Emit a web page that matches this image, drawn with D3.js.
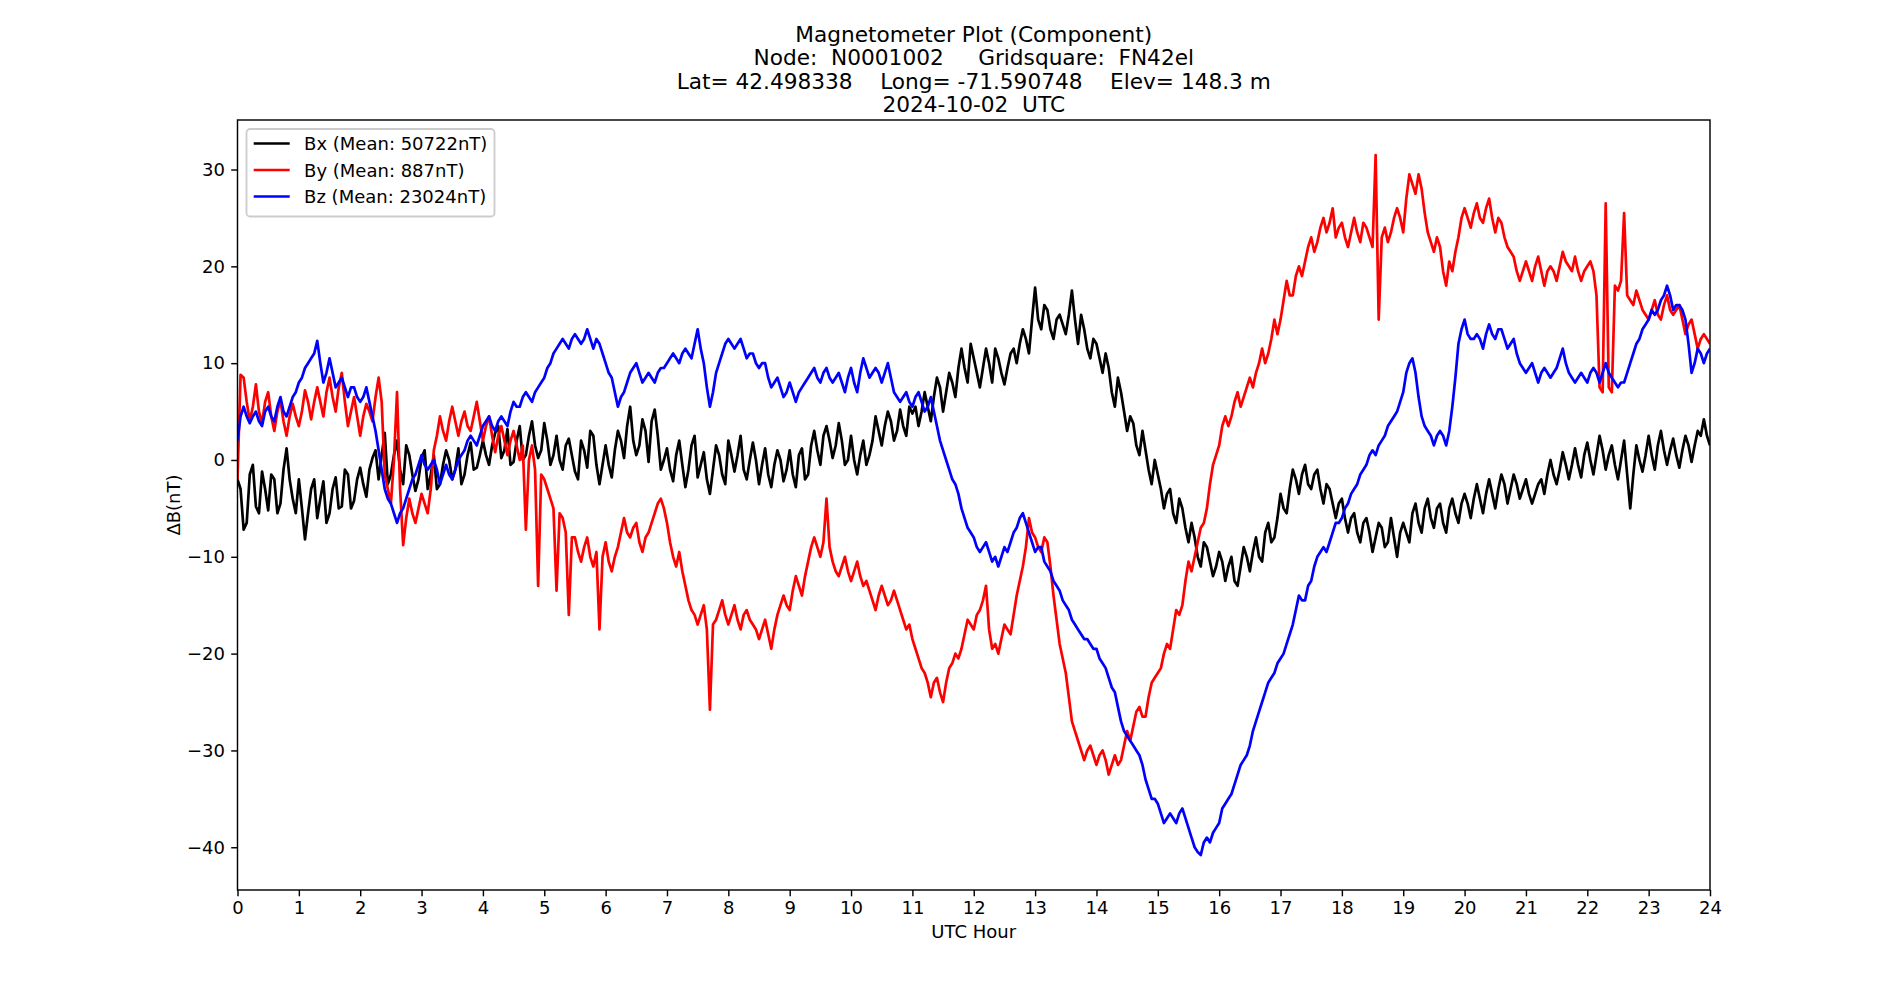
<!DOCTYPE html>
<html>
<head>
<meta charset="utf-8">
<script src="https://cdn.jsdelivr.net/npm/d3@7"></script>
<style>
  body { margin: 0; background: #fff; }
  svg { display: block; font-family: "DejaVu Sans", sans-serif; }
</style>
</head>
<body>
<svg id="chart"></svg>
<script>
const width = 1900, height = 1000;
const marginLeft = 237.5, marginRight = 190, marginTop = 120, marginBottom = 110;

const TITLE_LINES = [
    "Magnetometer Plot (Component)",
    "Node:  N0001002     Gridsquare:  FN42el",
    "Lat= 42.498338    Long= -71.590748    Elev= 148.3 m",
    "2024-10-02  UTC"
];

const X_TICKS = [0, 1, 2, 3, 4, 5, 6, 7, 8, 9, 10, 11, 12, 13, 14, 15, 16, 17, 18, 19, 20, 21, 22, 23, 24];
const Y_TICKS = [-40, -30, -20, -10, 0, 10, 20, 30];

const SERIES_NAMES = ["Bx", "By", "Bz"];
const SERIES_MEANS = [50722, 887, 23024];
const SERIES_COLORS = ["#000000", "#ff0000", "#0000ff"];

// readings on the tenth of an hour (00.0 ... 24.0 UTC, one row per hour)
// plus the readings halfway between them (00.05 ... 23.95 UTC)
const STEP_HOURS = 0.1;

const BX = [
    -2.0, -7.2, -1.5, -4.8, -1.2, -5.2, -2.0, -4.5, 1.2, -4.0,
    -2.0, -8.2, -3.0, -6.0, -2.2, -5.5, -1.8, -4.8, -1.5, -4.2,
    -0.8, -3.8, 0.2, -2.0, 2.8, -1.5, 2.0, -2.5, 0.5, -3.2,
    0.2, -3.0, 0.5, -2.5, 1.0, -2.0, 1.2, -1.5, 1.8, -0.8,
    2.0, -0.5, 2.8, 0.2, 3.2, -0.2, 3.5, 0.5, 4.0, 0.2,
    3.8, -0.5, 2.5, -1.0, 2.2, -1.2, 2.0, -0.8, 2.5, -2.5,
    1.5, -1.8, 3.0, 0.2, 5.5, 0.5, 4.2, -0.2, 5.2, -1.0,
    1.2, -2.2, 2.0, -2.8, 1.5, -1.8, 0.8, -3.5, 1.5, -1.5,
    2.0, -1.2, 2.5, -2.0, 1.8, -2.5, 1.2, -2.8, 1.0, -2.2,
    1.0, -2.8, 1.2, -1.5, 3.0, -0.5, 3.5, 0.2, 3.8, -0.5,
    2.5, -1.5, 2.0, 0.5, 4.5, 1.5, 5.0, 2.0, 5.2, 2.5,
    4.8, 3.5, 7.0, 4.0, 8.5, 5.0, 9.0, 6.5, 11.5, 8.0,
    10.5, 7.5, 11.5, 8.0, 10.5, 7.8, 11.0, 10.0, 13.5, 11.0,
    17.8, 13.5, 15.5, 12.5, 15.0, 13.0, 17.5, 12.0, 13.5, 10.5,
    12.0, 9.0, 9.5, 5.5, 7.0, 3.0, 3.8, 0.5, 1.0, -2.5,
    -1.5, -5.0, -3.0, -6.5, -5.0, -8.5, -8.0, -11.0, -9.0, -12.0,
    -9.5, -12.5, -10.0, -13.0, -9.0, -11.5, -8.0, -10.5, -6.5, -8.0,
    -3.5, -5.5, -1.0, -3.5, -0.5, -3.0, -1.0, -4.5, -3.0, -6.0,
    -4.0, -7.5, -5.5, -8.5, -6.0, -9.5, -6.5, -9.0, -6.0, -10.0,
    -6.5, -8.5, -4.5, -7.5, -4.0, -7.0, -4.5, -7.5, -4.0, -6.5,
    -3.5, -6.0, -2.5, -5.5, -2.0, -5.0, -1.5, -4.5, -1.5, -4.0,
    -2.0, -4.5, -2.5, -3.5, 0.0, -2.5, 0.8, -2.0, 1.2, -1.8,
    1.8, -1.5, 2.5, -1.0, 1.5, -2.0, 2.0, -5.0, 1.5, -1.2,
    2.5, -1.0, 3.0, -0.5, 2.2, -0.8, 2.5, -0.2, 3.0, 4.2,
    1.5
];
const BX_MID = [
    -3.0, -6.5, -0.5, -5.5, -3.0, -1.5, -5.5, -1.0, -2.0, -5.5,
    -5.0, -5.5, -2.0, -4.0, -6.5, -3.0, -5.0, -1.0, -5.0, -2.0,
    -2.5, -1.0, 1.0, 0.5, -2.5, 0.5, -1.0, 1.5, -1.5, -2.0,
    1.0, -1.5, -3.0, -0.5, 0.0, -1.0, -2.5, 0.5, -1.0, 0.5,
    0.5, 1.5, 3.5, 1.0, -0.5, 2.0, 0.0, 2.5, 1.5, 1.0,
    2.0, 0.5, 0.0, 1.5, 0.5, -2.0, 1.0, 3.0, -0.5, -0.5,
    -0.5, 1.0, 2.0, 3.5, 2.0, 1.5, 3.0, 4.0, 2.5, 0.0,
    -1.0, 0.5, -0.5, -1.0, 2.5, -0.5, -2.0, -1.0, 0.5, -2.5,
    0.5, 0.5, -1.0, 0.0, 0.0, -0.5, -1.5, -0.5, 0.0, -1.0,
    -1.5, 0.5, -2.0, 1.5, 1.0, 2.5, 2.0, 1.5, 2.0, 0.0,
    0.0, 0.5, -0.5, 2.0, 3.0, 3.5, 4.0, 3.0, 3.5, 5.5,
    5.5, 5.0, 5.5, 6.5, 7.5, 7.0, 8.0, 9.5, 9.5, 12.0,
    9.0, 9.5, 10.0, 11.5, 9.0, 9.5, 11.5, 12.0, 12.5, 14.5,
    14.5, 16.0, 13.5, 14.5, 14.0, 15.0, 14.5, 15.0, 11.5, 12.5,
    10.5, 11.0, 7.0, 8.5, 5.0, 4.5, 1.5, 3.0, -1.0, 0.0,
    -3.0, -3.5, -5.5, -4.0, -7.0, -6.5, -10.0, -8.5, -10.5, -11.0,
    -10.5, -11.0, -12.5, -11.0, -10.0, -9.5, -10.0, -7.5, -8.5, -6.0,
    -5.0, -3.0, -2.0, -1.5, -2.5, -1.5, -3.0, -2.5, -4.5, -4.5,
    -6.0, -6.0, -7.5, -6.5, -7.5, -8.0, -7.0, -8.5, -8.0, -7.5,
    -7.5, -5.5, -6.5, -5.0, -6.0, -5.0, -6.5, -5.0, -5.5, -4.5,
    -4.5, -4.0, -4.0, -3.5, -3.5, -3.0, -2.5, -3.0, -2.5, -3.0,
    -3.5, -3.5, -2.0, -1.5, -1.5, -1.0, -0.5, -0.5, -0.5, 0.5,
    0.0, 0.5, 1.0, 0.5, -0.5, 0.0, -1.5, -1.5, 0.0, 0.5,
    0.5, 1.5, 1.0, 1.0, 0.5, 1.0, 1.5, 1.5, 2.5, 2.5
];

const BY = [
    -2.0, 8.5, 4.0, 7.8, 3.8, 7.0, 3.0, 6.2, 2.5, 5.8,
    3.5, 7.2, 4.2, 7.5, 4.5, 8.5, 5.0, 9.0, 3.5, 6.5,
    2.5, 5.8, 4.0, 8.5, -1.5, -4.5, 7.0, -8.8, -4.0, -6.5,
    -3.5, -5.5, 1.0, 4.5, 2.0, 5.5, 2.5, 5.0, 3.0, 6.0,
    2.0, 4.5, 0.8, 3.5, 0.5, 3.0, 0.0, -7.2, 1.5, -13.0,
    -2.0, -4.0, -13.5, -6.0, -16.0, -8.0, -10.5, -8.0, -11.0, -17.5,
    -8.5, -11.5, -9.0, -6.0, -8.0, -6.5, -9.5, -7.5, -5.5, -4.0,
    -6.5, -10.0, -9.5, -13.0, -15.5, -17.0, -15.0, -25.8, -16.5, -14.5,
    -17.0, -15.0, -17.5, -15.5, -17.0, -18.5, -16.5, -19.5, -16.0, -14.0,
    -15.5, -12.0, -14.0, -10.5, -8.0, -10.0, -4.0, -10.5, -12.0, -10.0,
    -12.5, -10.5, -13.0, -13.5, -15.5, -13.0, -15.0, -13.5, -15.5, -17.5,
    -18.5, -20.5, -22.0, -24.5, -22.5, -25.0, -21.5, -20.0, -19.5, -16.5,
    -17.5, -15.5, -13.0, -19.5, -20.0, -17.0, -18.0, -14.0, -11.0, -6.0,
    -8.0, -9.5, -8.5, -14.0, -19.0, -22.0, -27.0, -29.0, -31.0, -29.5,
    -31.5, -30.0, -32.5, -30.5, -31.0, -28.0, -27.5, -25.5, -26.5, -23.0,
    -22.0, -20.0, -19.5, -15.5, -15.0, -10.5, -10.0, -7.0, -5.0, -0.5,
    1.5, 4.5, 4.5, 7.0, 6.5, 8.5, 9.0, 11.5, 11.0, 14.5,
    14.5, 18.5, 17.0, 20.0, 20.5, 23.0, 22.5, 25.0, 24.5, 23.0,
    24.5, 22.0, 25.0, 22.5, 24.0, 22.0, 14.5, 24.0, 23.5, 26.0,
    23.5, 29.5, 27.5, 28.0, 23.5, 21.5, 22.0, 18.0, 19.5, 23.0,
    26.0, 24.0, 26.5, 24.5, 27.0, 23.5, 24.5, 22.0, 21.0, 18.5,
    20.5, 18.5, 21.0, 18.0, 20.0, 18.5, 21.5, 20.0, 21.0, 18.5,
    20.0, 19.5, 7.5, 26.5, 7.0, 17.5, 25.5, 16.5, 17.5, 15.5,
    14.5, 16.5, 14.5, 17.0, 15.0, 16.0, 13.0, 14.5, 11.5, 13.0,
    12.0
];
const BY_MID = [
    8.8, 6.0, 5.5, 5.0, 6.0, 4.5, 5.0, 4.0, 4.5, 4.5,
    5.0, 6.0, 6.0, 6.0, 7.0, 6.5, 7.5, 6.0, 5.0, 4.5,
    4.5, 5.0, 6.5, 6.0, -3.0, 0.0, -3.0, -6.0, -5.5, -5.0,
    -4.5, -3.0, 2.5, 3.0, 4.0, 4.0, 4.0, 3.5, 4.5, 4.0,
    3.5, 2.5, 2.5, 2.0, 2.0, 1.5, 1.5, 0.0, -1.0, -1.5,
    -3.0, -5.0, -5.5, -7.5, -8.0, -9.5, -9.0, -10.0, -9.5, -10.0,
    -10.5, -10.0, -7.5, -7.5, -7.0, -8.5, -8.0, -6.5, -4.5, -5.0,
    -8.5, -11.0, -11.5, -14.5, -16.0, -16.0, -17.5, -17.0, -15.5, -16.0,
    -16.0, -16.5, -16.0, -16.5, -17.5, -17.5, -18.0, -17.5, -15.0, -15.0,
    -13.5, -13.0, -12.0, -9.0, -9.0, -8.5, -9.0, -11.5, -11.0, -11.5,
    -11.5, -12.0, -12.5, -14.5, -14.0, -14.0, -14.5, -14.5, -16.5, -17.0,
    -19.5, -21.5, -23.0, -23.0, -24.0, -23.0, -21.0, -20.5, -18.0, -17.0,
    -16.0, -14.5, -17.5, -19.0, -18.5, -17.5, -16.0, -12.5, -9.0, -7.5,
    -9.0, -8.0, -11.0, -16.5, -20.5, -24.5, -28.0, -30.0, -30.0, -30.5,
    -30.5, -31.0, -31.5, -31.5, -29.5, -29.0, -26.0, -26.5, -24.5, -22.5,
    -21.5, -19.0, -17.5, -16.0, -12.5, -11.5, -8.5, -6.5, -2.5, 0.5,
    3.5, 3.5, 6.0, 5.5, 7.5, 7.5, 10.0, 10.0, 12.5, 13.0,
    16.5, 17.0, 19.0, 19.0, 22.0, 21.5, 24.0, 23.5, 26.0, 24.0,
    23.0, 23.5, 23.5, 24.5, 23.0, 31.5, 23.0, 22.5, 25.0, 25.0,
    27.0, 28.5, 29.5, 25.5, 22.5, 23.0, 19.5, 20.5, 21.5, 25.0,
    25.0, 25.5, 25.0, 26.0, 25.0, 25.0, 23.0, 21.5, 19.5, 19.5,
    19.5, 20.0, 19.5, 19.5, 19.5, 20.0, 20.5, 19.5, 19.5, 19.5,
    20.5, 17.0, 7.0, 7.5, 18.0, 18.5, 17.0, 16.0, 16.5, 15.0,
    15.5, 15.0, 16.0, 15.5, 15.5, 14.5, 14.0, 13.0, 12.5, 12.5
];

const BZ = [
    2.0, 5.5, 3.8, 5.0, 3.5, 5.5, 4.0, 6.5, 4.5, 6.5,
    8.0, 9.5, 10.5, 12.3, 8.0, 10.5, 7.5, 8.5, 6.5, 7.5,
    6.0, 7.5, 4.5, 1.0, -3.0, -4.5, -6.5, -5.0, -3.0, -1.5,
    0.5, -1.0, 0.0, -2.5, -0.5, -2.0, 0.0, 1.0, 2.5, 1.5,
    3.5, 4.5, 3.0, 4.5, 3.5, 6.0, 5.5, 7.0, 6.0, 7.5,
    8.5, 10.0, 11.5, 12.5, 11.5, 13.0, 12.0, 13.5, 11.5, 12.0,
    10.0, 8.5, 5.5, 7.0, 9.0, 10.0, 8.0, 9.0, 8.0, 9.5,
    10.0, 11.0, 10.0, 11.5, 10.5, 13.5, 10.0, 5.5, 9.0, 11.0,
    12.5, 11.5, 12.5, 10.5, 11.0, 9.5, 10.0, 7.5, 8.5, 6.5,
    8.0, 6.0, 7.5, 8.5, 9.5, 8.0, 9.5, 8.0, 9.0, 7.0,
    9.5, 7.0, 10.5, 8.5, 9.5, 8.0, 10.0, 7.0, 6.0, 7.0,
    5.5, 7.0, 5.0, 6.5, 3.5, 1.0, -1.0, -2.5, -5.0, -7.0,
    -8.0, -9.5, -8.5, -10.5, -11.0, -9.0, -8.5, -7.0, -5.5, -7.5,
    -9.5, -9.0, -11.0, -12.5, -13.5, -15.0, -16.5, -17.5, -18.5, -19.0,
    -19.5, -21.0, -22.5, -24.0, -27.0, -28.5, -29.5, -30.5, -33.0, -35.0,
    -35.5, -37.5, -36.5, -37.5, -36.0, -38.0, -40.0, -40.8, -39.0, -38.5,
    -37.5, -35.5, -34.5, -32.5, -31.0, -29.5, -27.0, -25.0, -23.0, -22.0,
    -20.5, -19.0, -17.0, -14.0, -14.5, -12.5, -10.0, -9.0, -8.5, -6.5,
    -6.0, -4.5, -3.0, -1.5, -0.5, 1.0, 1.5, 2.5, 4.0, 5.0,
    7.0, 10.0, 9.0, 4.5, 3.0, 1.5, 3.0, 1.5, 5.5, 12.0,
    14.5, 12.5, 13.0, 11.5, 14.0, 12.5, 13.5, 11.5, 12.5, 10.0,
    9.0, 10.0, 8.0, 9.5, 8.5, 9.5, 11.5, 9.0, 8.0, 9.0,
    8.0, 9.5, 8.0, 10.0, 8.5, 7.5, 8.0, 10.0, 12.0, 13.5,
    14.5, 15.0, 16.5, 18.0, 15.5, 16.0, 14.5, 9.0, 11.5, 10.0,
    11.5
];
const BZ_MID = [
    4.5, 4.5, 4.5, 4.0, 5.0, 4.5, 5.5, 5.0, 5.5, 7.0,
    8.5, 10.0, 11.0, 10.0, 9.0, 9.0, 8.0, 7.5, 7.5, 6.5,
    6.5, 6.0, 3.0, -1.0, -4.0, -5.5, -5.5, -4.0, -2.0, -0.5,
    -0.5, -0.5, -1.0, -1.5, -1.5, -1.0, 0.5, 2.0, 2.0, 2.5,
    4.0, 3.5, 4.0, 4.0, 5.0, 5.5, 6.5, 6.5, 7.0, 8.0,
    9.5, 11.0, 12.0, 12.0, 12.5, 12.5, 12.5, 12.5, 12.5, 11.0,
    9.0, 7.0, 6.5, 8.0, 9.5, 9.0, 8.5, 8.5, 9.0, 9.5,
    10.5, 10.5, 11.0, 11.0, 12.0, 11.5, 7.5, 7.0, 10.0, 12.0,
    12.0, 12.0, 11.5, 11.0, 10.0, 10.0, 8.5, 8.0, 7.5, 7.0,
    7.0, 7.0, 8.0, 9.0, 8.5, 9.0, 8.5, 8.5, 8.0, 8.5,
    8.0, 9.0, 9.5, 9.0, 9.0, 9.0, 8.5, 6.5, 6.5, 6.0,
    6.5, 6.0, 5.5, 5.0, 2.0, 0.0, -2.0, -3.5, -6.0, -7.5,
    -9.0, -9.0, -9.5, -10.0, -10.0, -9.5, -7.5, -6.0, -6.5, -8.5,
    -9.0, -10.5, -11.5, -13.0, -14.5, -15.5, -17.0, -18.0, -18.5, -19.5,
    -20.5, -21.5, -23.5, -25.5, -28.0, -29.0, -30.0, -31.5, -34.0, -35.0,
    -36.5, -37.0, -37.0, -36.5, -37.0, -39.0, -40.5, -39.5, -39.5, -38.0,
    -36.0, -35.0, -33.5, -31.5, -30.5, -28.0, -26.0, -24.0, -22.5, -21.0,
    -20.0, -18.0, -15.5, -14.5, -13.0, -11.0, -9.5, -9.5, -7.5, -6.5,
    -5.0, -3.5, -2.5, -1.0, 0.5, 0.5, 2.0, 3.5, 4.5, 6.0,
    9.0, 10.5, 6.5, 3.5, 2.5, 2.5, 2.5, 3.0, 8.5, 13.5,
    13.0, 12.5, 12.5, 13.0, 13.0, 13.5, 12.5, 12.0, 11.0, 9.5,
    9.5, 9.0, 9.0, 9.0, 9.0, 10.5, 10.0, 8.5, 8.5, 8.5,
    9.0, 9.0, 9.0, 9.0, 8.0, 8.0, 9.0, 11.0, 12.5, 14.0,
    15.5, 15.5, 17.0, 17.0, 16.0, 15.5, 12.0, 10.0, 11.0, 11.0
];

function toPoints(values, mids) {
    const points = [];
    values.forEach((v, i) => {
        points.push([i * STEP_HOURS, v]);
        if (i < mids.length) points.push([(i + 0.5) * STEP_HOURS, mids[i]]);
    });
    return points;
}

const series = [[BX, BX_MID], [BY, BY_MID], [BZ, BZ_MID]].map(([values, mids], k) => ({
    name: SERIES_NAMES[k],
    label: `${SERIES_NAMES[k]} (Mean: ${SERIES_MEANS[k]}nT)`,
    color: SERIES_COLORS[k],
    points: toPoints(values, mids)
}));

// matplotlib-like autoscale: data extent plus 5% margin
const [yMin, yMax] = d3.extent(series.flatMap(s => s.points), d => d[1]);
const yPad = (yMax - yMin) * 0.05;

const x = d3.scaleLinear()
    .domain([0, 24])
    .range([marginLeft, width - marginRight]);

const y = d3.scaleLinear()
    .domain([yMin - yPad, yMax + yPad])
    .range([height - marginBottom, marginTop]);

const svg = d3.select("#chart")
    .attr("width", width)
    .attr("height", height)
    .attr("viewBox", [0, 0, width, height]);

svg.append("rect")
    .attr("width", width)
    .attr("height", height)
    .attr("fill", "#fff");

svg.append("clipPath")
    .attr("id", "plot-clip")
    .append("rect")
    .attr("x", marginLeft)
    .attr("y", marginTop)
    .attr("width", width - marginLeft - marginRight)
    .attr("height", height - marginTop - marginBottom);

const line = d3.line()
    .x(d => x(d[0]))
    .y(d => y(d[1]));

svg.append("g")
    .attr("clip-path", "url(#plot-clip)")
    .selectAll("path")
    .data(series)
    .join("path")
    .attr("fill", "none")
    .attr("stroke", d => d.color)
    .attr("stroke-width", 2.7)
    .attr("stroke-linejoin", "round")
    .attr("d", d => line(d.points));

// Axes
const xAxis = svg.append("g")
    .attr("transform", `translate(0, ${height - marginBottom})`)
    .call(d3.axisBottom(x).tickValues(X_TICKS).tickFormat(d3.format("d"))
        .tickSize(6.3).tickPadding(4.5).tickSizeOuter(0));

const yAxis = svg.append("g")
    .attr("transform", `translate(${marginLeft}, 0)`)
    .call(d3.axisLeft(y).tickValues(Y_TICKS).tickFormat(d3.format("d"))
        .tickSize(6.3).tickPadding(6.3).tickSizeOuter(0));

[xAxis, yAxis].forEach(g => {
    g.select(".domain").remove();
    g.selectAll(".tick line").attr("stroke", "#000").attr("stroke-width", 1.44);
    g.selectAll(".tick text")
        .attr("fill", "#000")
        .style("font-family", "DejaVu Sans")
        .style("font-size", "18px");
});

svg.append("rect")
    .attr("x", marginLeft)
    .attr("y", marginTop)
    .attr("width", width - marginLeft - marginRight)
    .attr("height", height - marginTop - marginBottom)
    .attr("fill", "none")
    .attr("stroke", "#000")
    .attr("stroke-width", 1.44);

// Labels
svg.append("text")
    .attr("x", (marginLeft + width - marginRight) / 2)
    .attr("y", 937.5)
    .attr("text-anchor", "middle")
    .style("font-size", "18px")
    .text("UTC Hour");

svg.append("text")
    .attr("transform", `translate(173, ${(marginTop + height - marginBottom) / 2}) rotate(-90)`)
    .attr("text-anchor", "middle")
    .attr("dominant-baseline", "central")
    .style("font-size", "18px")
    .text("ΔB(nT)");

svg.append("g")
    .selectAll("text")
    .data(TITLE_LINES)
    .join("text")
    .attr("x", (marginLeft + width - marginRight) / 2)
    .attr("y", (d, i) => 41.8 + i * 23.4)
    .attr("text-anchor", "middle")
    .attr("xml:space", "preserve")
    .style("white-space", "pre")
    .style("font-size", "21.67px")
    .text(d => d);

// Legend
const legendX = 246.5, legendY = 129, rowStep = 26.5;
const legend = svg.append("g");

legend.append("rect")
    .attr("x", legendX)
    .attr("y", legendY)
    .attr("width", 248)
    .attr("height", 87.5)
    .attr("rx", 3.6)
    .attr("fill", "#fff")
    .attr("fill-opacity", 0.8)
    .attr("stroke", "#cccccc")
    .attr("stroke-width", 1.8);

const rows = legend.selectAll("g.row")
    .data(series)
    .join("g")
    .attr("class", "row")
    .attr("transform", (d, i) => `translate(0, ${legendY + 14.5 + i * rowStep})`);

rows.append("line")
    .attr("x1", legendX + 7.2)
    .attr("x2", legendX + 43.2)
    .attr("stroke", d => d.color)
    .attr("stroke-width", 2.7);

rows.append("text")
    .attr("x", legendX + 57.6)
    .attr("y", 6.5)
    .style("font-size", "18px")
    .text(d => d.label);
</script>
</body>
</html>
